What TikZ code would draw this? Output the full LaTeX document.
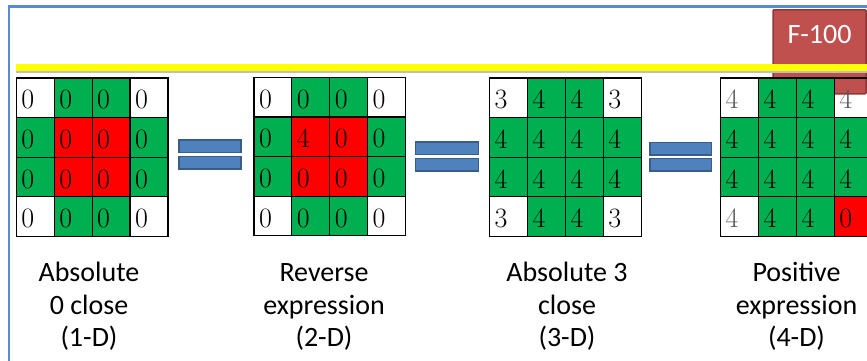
\documentclass[tikz,border=0pt]{standalone}
\usepackage{fontspec}
\newfontfamily\carl{Carlito}
\definecolor{cgreen}{HTML}{00B050}
\definecolor{cred}{HTML}{FF0000}
\definecolor{cframe}{HTML}{5A8AD0}
\definecolor{cbar}{HTML}{4F81BD}
\definecolor{cbarline}{HTML}{385D8A}
\definecolor{cbox}{HTML}{C0504D}
\definecolor{cboxline}{HTML}{8C3836}
\definecolor{cyel}{HTML}{FFFF00}
\definecolor{cgreyd}{HTML}{595959}
\newcommand\cw{37.9}
\newcommand\ch{39.6}
\newcommand\mkgrid[4]{%
  \foreach \fc/\dg/\tc [count=\i from 0] in {#4}{%
    \pgfmathtruncatemacro\rr{div(\i,4)}%
    \pgfmathtruncatemacro\kk{mod(\i,4)}%
    \node[cellbox, fill=\fc, anchor=north west] (#1-\rr\kk) at ({#2+\kk*\cw},{#3+\rr*\ch}) {};
    \node[digit, text=\tc, anchor=base west, xshift=5.5pt, yshift=-31.5pt] (#1-\rr\kk-d) at (#1-\rr\kk.north west) {\dg};
  }}
\begin{document}
\begin{tikzpicture}[x=1pt,y=-1pt,
  cellbox/.style={rectangle, draw=black, line width=1.2pt, inner sep=0pt,
    minimum width=\cw pt, minimum height=\ch pt},
  digit/.style={inner sep=0pt, font=\fontsize{28}{28}\selectfont},
  eqbar/.style={rectangle, draw=cbarline, fill=cbar, line width=1.5pt, inner sep=0pt,
    minimum width=61pt, minimum height=12.5pt},
  lbl/.style={align=center, inner sep=0pt, anchor=base, text=black,
    font=\carl\fontsize{28}{32.5}\selectfont}]
\useasboundingbox (0,0) rectangle (867,360);
\fill[white] (0,0) rectangle (867,360);
% frame
\coordinate (fbl) at (9,362);
\coordinate (ftl) at (9,6.3);
\coordinate (ftr) at (870,6.3);
\draw[cframe, line width=2.5pt] (fbl) -- (ftl) -- (ftr);
% F-100 box
\node[rectangle, draw=cboxline, fill=cbox, line width=1.5pt, rounded corners=1pt,
  anchor=north, minimum width=93pt, inner sep=0pt, text height=34pt, text depth=50pt,
  text=white, font=\carl\fontsize{28}{28}\selectfont] (F100) at (819.5,9) {F-100};
% yellow line
\coordinate (ya) at (15.7,67);
\coordinate (yb) at (870,67);
\draw[black!25, line width=2pt, transform canvas={yshift=-4.5pt}] (ya) -- (yb);
\draw[cyel, line width=7pt] (ya) -- (yb);
% grids
\mkgrid{ga}{15.7}{77.3}{white/0/black, cgreen/0/black, cgreen/0/black, white/0/black,
  cgreen/0/black, cred/0/black, cred/0/black, cgreen/0/black,
  cgreen/0/black, cred/0/black, cred/0/black, cgreen/0/black,
  white/0/black, cgreen/0/black, cgreen/0/black, white/0/black}
\mkgrid{gb}{253.3}{76.7}{white/0/black, cgreen/0/black, cgreen/0/black, white/0/black,
  cgreen/0/black, cred/4/black, cred/0/black, cgreen/0/black,
  cgreen/0/black, cred/0/black, cred/0/black, cgreen/0/black,
  white/0/black, cgreen/0/black, cgreen/0/black, white/0/black}
\mkgrid{gc}{489}{77.3}{white/3/black, cgreen/4/black, cgreen/4/black, white/3/black,
  cgreen/4/black, cgreen/4/black, cgreen/4/black, cgreen/4/black,
  cgreen/4/black, cgreen/4/black, cgreen/4/black, cgreen/4/black,
  white/3/black, cgreen/4/black, cgreen/4/black, white/3/black}
\mkgrid{gd}{720}{77.3}{none/4/cgreyd, cgreen/4/black, cgreen/4/black, none/4/cgreyd,
  cgreen/4/black, cgreen/4/black, cgreen/4/black, cgreen/4/black,
  cgreen/4/black, cgreen/4/black, cgreen/4/black, cgreen/4/black,
  none/4/cgreyd, cgreen/4/black, cgreen/4/black, cred/0/black}
% equal signs
\node[eqbar, minimum width=62pt] (e1a) at (210,146.4) {};
\node[eqbar, minimum width=62pt] (e1b) at (210,162.6) {};
\node[eqbar, minimum width=62.6pt] (e2a) at (447,148.3) {};
\node[eqbar, minimum width=62.6pt] (e2b) at (447,164.7) {};
\node[eqbar, minimum width=61.7pt] (e3a) at (680.8,148.6) {};
\node[eqbar, minimum width=61.7pt] (e3b) at (680.8,164.7) {};
% labels (anchor base = baseline of the last line)
\node[lbl] (l1) at (89,346.7) {Absolute\\0 close\\(1-D)};
\node[lbl] (l2) at (324,346.7) {Reverse\\expression\\(2-D)};
\node[lbl] (l3) at (567,346.7) {Absolute 3\\close\\(3-D)};
\node[lbl] (l4) at (796.5,346.7) {Positive\\expression\\(4-D)};
\end{tikzpicture}
\end{document}
